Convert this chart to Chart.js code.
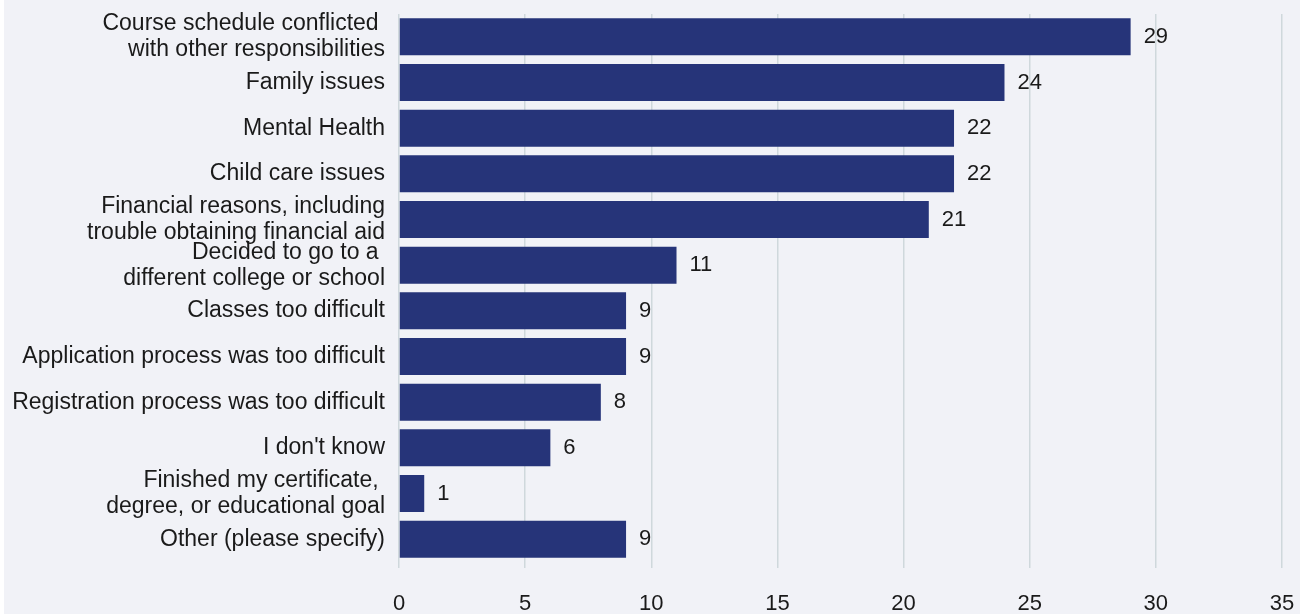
<!DOCTYPE html>
<html>
<head>
<meta charset="utf-8">
<script src="https://cdn.jsdelivr.net/npm/chart.js@4/dist/chart.umd.min.js"></script>
<style>
  html, body { margin: 0; padding: 0; background: #ffffff; }
  #wrap { position: absolute; left: 4px; top: 0; width: 1296px; height: 614px; background: #f1f2f7; }
  #box { position: absolute; left: 0; top: 0; width: 1308px; height: 614px; }
</style>
</head>
<body>
<div id="wrap"></div>
<div id="box"><canvas id="chart"></canvas></div>
<script>
// reasons for stopping out
const categories = [
    ['Course schedule conflicted ', 'with other responsibilities'],
    'Family issues',
    'Mental Health',
    'Child care issues',
    ['Financial reasons, including', 'trouble obtaining financial aid'],
    ['Decided to go to a ', 'different college or school'],
    'Classes too difficult',
    'Application process was too difficult',
    'Registration process was too difficult',
    "I don't know",
    ['Finished my certificate, ', 'degree, or educational goal'],
    'Other (please specify)'
];
const counts = [29, 24, 22, 22, 21, 11, 9, 9, 8, 6, 1, 9];
const xTicks = [0, 5, 10, 15, 20, 25, 30, 35];

const barColor = '#263479';
const textColor = '#1a1a1a';
const fontFamily = '"Liberation Sans", Arial, sans-serif';

// draw the numbers at the end of each bar
const valueLabels = {
    id: 'valueLabels',
    afterDatasetsDraw(chart) {
        const ctx = chart.ctx;
        const meta = chart.getDatasetMeta(0);
        ctx.save();
        ctx.fillStyle = textColor;
        ctx.font = '22px ' + fontFamily;
        ctx.textBaseline = 'middle';
        ctx.textAlign = 'left';
        meta.data.forEach((bar, i) => {
            ctx.fillText(String(counts[i]), bar.x + 13, bar.y);
        });
        ctx.restore();
    }
};

new Chart(document.getElementById('chart'), {
    type: 'bar',
    data: {
        labels: categories,
        datasets: [{
            data: counts,
            backgroundColor: barColor,
            borderWidth: 0,
            barPercentage: 0.81,
            categoryPercentage: 1
        }]
    },
    options: {
        indexAxis: 'y',
        responsive: true,
        maintainAspectRatio: false,
        animation: false,
        layout: { padding: { top: 14, right: 26, bottom: 0, left: 0 } },
        plugins: {
            legend: { display: false },
            tooltip: { enabled: false }
        },
        scales: {
            x: {
                min: 0,
                max: 35,
                afterBuildTicks: (scale) => { scale.ticks = xTicks.map(v => ({ value: v })); },
                grid: {
                    color: '#cfd8dc',
                    lineWidth: 1.5,
                    drawTicks: true,
                    tickLength: 6
                },
                border: { display: false },
                ticks: {
                    color: textColor,
                    font: { family: fontFamily, size: 22 },
                    padding: 23
                },
                afterFit: (scale) => {
                    scale.height = 52;
                    scale.paddingLeft = 0;
                    scale.paddingRight = 0;
                }
            },
            y: {
                grid: { display: false, drawTicks: false },
                border: { display: false },
                ticks: {
                    color: textColor,
                    font: { family: fontFamily, size: 23, lineHeight: 1.13 },
                    padding: 14,
                    autoSkip: false
                },
                afterFit: (scale) => {
                    scale.width = 399;
                    scale.paddingTop = 0;
                    scale.paddingBottom = 0;
                }
            }
        }
    },
    plugins: [valueLabels]
});
</script>
</body>
</html>
